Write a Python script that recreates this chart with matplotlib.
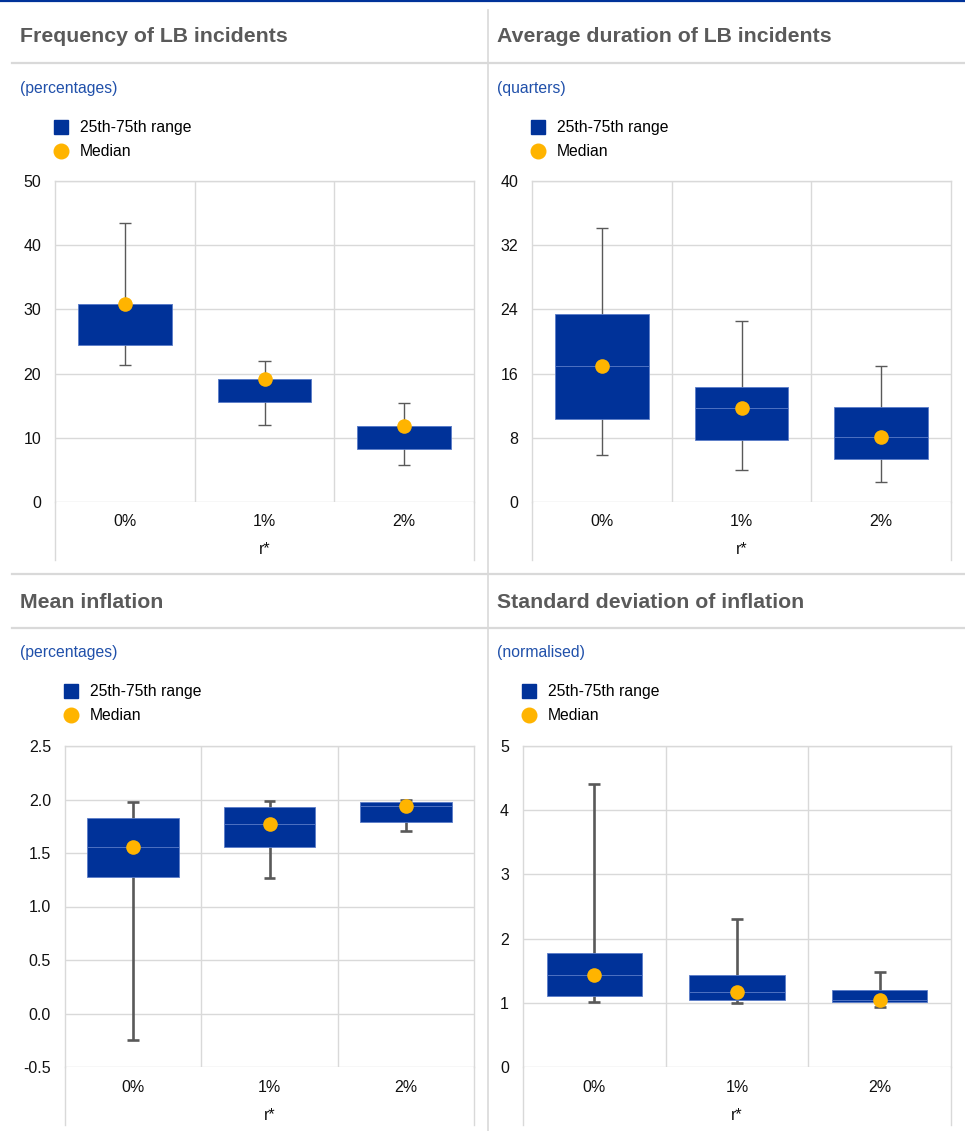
import numpy as np
import matplotlib
matplotlib.use("Agg")
import matplotlib.pyplot as plt
from matplotlib.lines import Line2D

plt.rcParams['font.family'] = ['Liberation Sans', 'DejaVu Sans']

# ---- data ----
categories = ['0%', '1%', '2%']
legend_labels = ['25th-75th range', 'Median']

freq_q1 = [24.5, 15.6, 8.3]
freq_q3 = [30.9, 19.2, 11.8]
freq_lo = [21.4, 12.0, 5.7]
freq_hi = [43.5, 21.9, 15.4]
freq_med = [30.9, 19.2, 11.8]

dur_q1 = [10.3, 7.7, 5.4]
dur_q3 = [23.4, 14.3, 11.9]
dur_lo = [5.8, 4.0, 2.5]
dur_hi = [34.2, 22.5, 16.9]
dur_med = [16.9, 11.75, 8.1]

mean_q1 = [1.28, 1.56, 1.79]
mean_q3 = [1.83, 1.93, 1.98]
mean_lo = [-0.25, 1.27, 1.71]
mean_hi = [1.98, 1.99, 2.00]
mean_med = [1.56, 1.77, 1.94]

std_q1 = [1.11, 1.04, 1.02]
std_q3 = [1.77, 1.43, 1.20]
std_lo = [1.02, 1.00, 0.94]
std_hi = [4.41, 2.31, 1.48]
std_med = [1.44, 1.17, 1.04]

freq_ticks = [0, 10, 20, 30, 40, 50]
dur_ticks = [0, 8, 16, 24, 32, 40]
mean_ticks = [-0.5, 0.0, 0.5, 1.0, 1.5, 2.0, 2.5]
mean_ticklabels = ['-0.5', '0.0', '0.5', '1.0', '1.5', '2.0', '2.5']
std_ticks = [0, 1, 2, 3, 4, 5]

BLUE = '#003299'
YELLOW = '#ffb400'
GRID = '#d9d9d9'
WHISK = '#595959'
TITLE = '#5a5a5a'
SUB = '#2050aa'

W, H = 965, 1131
fig = plt.figure(figsize=(W / 100, H / 100), dpi=100)


def px_axes(x0, y0, x1, y1):
    return fig.add_axes([x0 / W, 1 - y1 / H, (x1 - x0) / W, (y1 - y0) / H])


def fig_line(x0, y0, x1, y1, color=GRID, lw=1.5):
    fig.add_artist(Line2D([x0 / W, x1 / W], [1 - y0 / H, 1 - y1 / H],
                          transform=fig.transFigure, color=color, lw=lw))


def panel(rect, title, title_xy, sub, sub_y, q1, q3, lo, hi, med,
          ticks, ticklabels, wlw, ext_bottom):
    x0, y0, x1, y1 = rect
    ax = px_axes(x0, y0, x1, y1)
    x = np.arange(len(categories))
    q1 = np.array(q1)
    q3 = np.array(q3)

    # whiskers behind the boxes
    ax.vlines(x, lo, hi, color=WHISK, lw=wlw, zorder=2)
    ax.hlines(lo, x - 0.043, x + 0.043, color=WHISK, lw=wlw, zorder=2)
    ax.hlines(hi, x - 0.043, x + 0.043, color=WHISK, lw=wlw, zorder=2)

    ax.bar(x, q3 - q1, bottom=q1, width=0.67, color=BLUE,
           edgecolor='#5a7cc8', lw=0.6, zorder=3)
    ax.hlines(med, x - 0.335, x + 0.335, color='#5a7cc8', lw=0.6, zorder=4)
    ax.plot(x, med, 'o', color=YELLOW, ms=10.5, mec='none', zorder=5)

    ax.set_xlim(-0.5, 2.5)
    ax.set_ylim(ticks[0], ticks[-1])
    ax.set_yticks(ticks)
    ax.set_yticklabels(ticklabels)
    ax.set_xticks(x)
    ax.set_xticklabels(categories)
    ax.set_xticks([0.5, 1.5], minor=True)
    ax.tick_params(axis='both', which='both', length=0, labelsize=11.5,
                   colors='#111111')
    ax.tick_params(axis='y', pad=10)
    ax.tick_params(axis='x', pad=9)
    ax.grid(axis='y', which='major', color=GRID, lw=1.0, zorder=0)
    ax.grid(axis='x', which='minor', color=GRID, lw=1.0, zorder=0)
    ax.set_axisbelow(True)
    for s in ['left', 'right', 'top']:
        ax.spines[s].set_color(GRID)
        ax.spines[s].set_linewidth(1.0)
    ax.spines['bottom'].set_visible(False)

    # frame continues below the category labels
    hh = y1 - y0
    for xa in (0, 1):
        ax.plot([xa, xa], [0, -ext_bottom / hh], transform=ax.transAxes,
                color=GRID, lw=1.0, clip_on=False)
    ax.text(0.5, -48 / hh, 'r*', transform=ax.transAxes, ha='center',
            va='center', fontsize=11.5, color='#111111')

    fig.text(title_xy[0] / W, 1 - title_xy[1] / H, title, fontsize=15.3,
             fontweight='bold', color=TITLE, va='center', ha='left')
    fig.text(title_xy[0] / W, 1 - sub_y / H, sub, fontsize=11.3, color=SUB,
             va='center', ha='left')

    leg_h = [Line2D([], [], marker='s', ls='', color=BLUE, ms=10),
             Line2D([], [], marker='o', ls='', color=YELLOW, ms=10.5)]
    ax.legend(leg_h, legend_labels, loc='upper left',
              bbox_to_anchor=(x0 / W - 0.002, 1 - (sub_y + 32) / H),
              bbox_transform=fig.transFigure, frameon=False, fontsize=11.3,
              handlelength=1.0, handletextpad=0.72, labelspacing=0.6,
              borderpad=0, borderaxespad=0)
    return ax


panel((55, 181, 474, 502), 'Frequency of LB incidents', (20, 37),
      '(percentages)', 88, freq_q1, freq_q3, freq_lo, freq_hi, freq_med,
      freq_ticks, [str(t) for t in freq_ticks], 1.0, 58)
panel((532, 181, 951, 502), 'Average duration of LB incidents', (497, 37),
      '(quarters)', 88, dur_q1, dur_q3, dur_lo, dur_hi, dur_med,
      dur_ticks, [str(t) for t in dur_ticks], 1.0, 58)
panel((65, 746, 474, 1067), 'Mean inflation', (20, 602),
      '(percentages)', 652, mean_q1, mean_q3, mean_lo, mean_hi, mean_med,
      mean_ticks, mean_ticklabels, 1.9, 58)
panel((523, 746, 951, 1067), 'Standard deviation of inflation', (497, 602),
      '(normalised)', 652, std_q1, std_q3, std_lo, std_hi, std_med,
      std_ticks, [str(t) for t in std_ticks], 1.9, 58)

# page furniture
fig_line(0, 0.8, W, 0.8, color=BLUE, lw=1.6)
fig_line(488, 10, 488, H, lw=1.2)
fig_line(12, 63, W, 63, lw=1.6)
fig_line(12, 573.5, W, 573.5, lw=1.6)
fig_line(12, 628, W, 628, lw=1.6)

fig.savefig('out.png', dpi=100)
